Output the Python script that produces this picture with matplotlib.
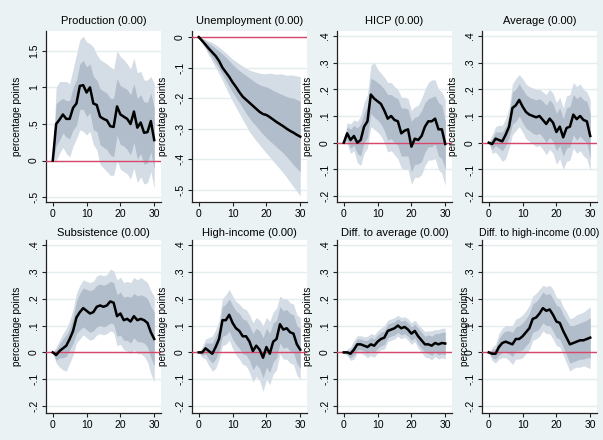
import numpy as np
import matplotlib
matplotlib.use("Agg")
from matplotlib import pyplot as plt
from matplotlib.ticker import FuncFormatter

plt.rcParams['font.family'] = ['Liberation Sans', 'DejaVu Sans']

horizon = list(range(31))

titles = ["Production (0.00)", "Unemployment (0.00)", "HICP (0.00)", "Average (0.00)",
          "Subsistence (0.00)", "High-income (0.00)", "Diff. to average (0.00)",
          "Diff. to high-income (0.00)"]

# Production
prod_mean = [0, .50, .56, .63, .57, .57, .72, .78, 1.02, 1.03, .93, 1.00, .78, .76, .60, .57,
             .55, .47, .46, .74, .63, .60, .57, .50, .67, .45, .52, .38, .39, .54, .28]
prod_in_hi = [0, .78, .82, .85, .82, .82, 1.0, 1.1, 1.32, 1.37, 1.28, 1.32, 1.15, 1.1, .98, .95,
              .92, .85, .85, 1.12, 1.02, 1.0, .97, .9, 1.05, .85, .9, .8, .8, .92, .72]
prod_in_lo = [0, .2, .28, .38, .32, .3, .42, .48, .7, .7, .6, .65, .42, .4, .22, .18,
              .15, .08, .05, .35, .22, .2, .15, .08, .25, .02, .1, -.05, -.03, .12, -.12]
prod_out_hi = [0, 1.0, 1.08, 1.08, 1.08, 1.05, 1.25, 1.45, 1.65, 1.7, 1.62, 1.6, 1.55, 1.45, 1.38, 1.35,
               1.32, 1.28, 1.25, 1.5, 1.42, 1.38, 1.32, 1.25, 1.4, 1.2, 1.22, 1.1, 1.1, 1.15, 1.05]
prod_out_lo = [0, 0.0, .1, .18, .1, .05, .2, .3, .42, .4, .35, .4, .22, .15, -.05, -.1,
               -.15, -.2, -.2, 0.0, -.12, -.15, -.18, -.25, -.1, -.3, -.22, -.32, -.3, -.15, -.38]

# Unemployment
unemp_mean = [0, -.012, -.025, -.038, -.05, -.062, -.078, -.1, -.115, -.13, -.148, -.163, -.18, -.195,
              -.205, -.215, -.225, -.235, -.245, -.252, -.255, -.262, -.27, -.278, -.285, -.292,
              -.3, -.307, -.313, -.32, -.326]
unemp_in_hi = [0, -.005, -.012, -.02, -.028, -.037, -.046, -.056, -.066, -.077, -.09, -.1, -.11, -.118,
               -.126, -.134, -.142, -.15, -.156, -.16, -.163, -.168, -.175, -.18, -.185, -.19,
               -.195, -.198, -.2, -.205, -.21]
unemp_in_lo = [0, -.017, -.034, -.051, -.068, -.085, -.103, -.122, -.142, -.162, -.18, -.198, -.215,
               -.232, -.25, -.265, -.28, -.292, -.305, -.318, -.33, -.34, -.35, -.36, -.37, -.38,
               -.392, -.405, -.418, -.43, -.44]
unemp_out_hi = [0, -.003, -.008, -.013, -.018, -.025, -.033, -.042, -.052, -.062, -.072, -.08, -.088,
                -.095, -.102, -.108, -.112, -.115, -.118, -.12, -.12, -.118, -.12, -.122, -.12, -.122,
                -.125, -.124, -.125, -.127, -.13]
unemp_out_lo = [0, -.02, -.04, -.06, -.08, -.1, -.12, -.142, -.165, -.188, -.21, -.23, -.25, -.27, -.29,
                -.31, -.325, -.34, -.353, -.367, -.38, -.393, -.406, -.419, -.432, -.445, -.46, -.475,
                -.49, -.505, -.52]

# HICP
hicp_mean = [0, .035, .01, .025, .0, .01, .06, .08, .18, .165, .155, .145, .12, .09, .10, .085,
             .08, .035, .045, .05, -.015, .015, .01, .025, .06, .08, .08, .09, .05, .05, -.005]
hicp_in_hi = [0, .06, .05, .065, .055, .07, .11, .14, .24, .235, .225, .215, .2, .18, .18, .17,
              .165, .13, .13, .125, .08, .095, .1, .12, .15, .165, .17, .175, .15, .14, .08]
hicp_in_lo = [0, .01, -.02, -.01, -.04, -.05, .0, .02, .11, .095, .085, .07, .045, .01, .015, .0,
              -.01, -.05, -.05, -.05, -.11, -.08, -.08, -.07, -.035, -.015, -.015, -.005, -.05, -.06, -.1]
hicp_out_hi = [0, .075, .07, .085, .08, .1, .15, .18, .29, .3, .275, .26, .245, .225, .225, .21,
               .2, .17, .17, .165, .12, .135, .14, .165, .2, .225, .235, .235, .2, .19, .16]
hicp_out_lo = [0, -.005, -.04, -.03, -.075, -.085, -.04, -.02, .06, .05, .04, .025, .0, -.035, -.03, -.045,
               -.06, -.095, -.1, -.1, -.155, -.13, -.13, -.12, -.085, -.065, -.065, -.06, -.1, -.115, -.16]

# Average
avg_mean = [0, -.005, .015, .01, .005, .03, .06, .13, .14, .16, .135, .115, .105, .10, .095, .10,
            .085, .07, .09, .075, .04, .06, .02, .055, .06, .105, .088, .10, .085, .08, .025]
avg_in_hi = [0, .015, .04, .04, .04, .06, .1, .19, .2, .22, .2, .18, .17, .165, .16, .165,
             .155, .14, .16, .145, .11, .13, .09, .13, .135, .18, .165, .175, .16, .155, .11]
avg_in_lo = [0, -.025, -.01, -.02, -.03, -.01, .02, .07, .08, .1, .075, .055, .045, .035, .03, .035,
             .02, .0, .02, .005, -.03, -.01, -.05, -.02, -.015, .03, .01, .025, .01, .0, -.06]
avg_out_hi = [0, .03, .06, .065, .065, .09, .13, .22, .24, .255, .24, .22, .21, .205, .2, .2,
              .19, .18, .2, .185, .15, .17, .13, .175, .18, .225, .21, .22, .2, .19, .16]
avg_out_lo = [0, -.04, -.035, -.05, -.07, -.06, -.02, .03, .045, .06, .04, .015, .005, -.005, -.015, -.01,
              -.025, -.045, -.025, -.04, -.08, -.06, -.1, -.07, -.065, -.02, -.04, -.03, -.05, -.06, -.105]

# Subsistence
subs_mean = [0, -.01, .005, .015, .025, .05, .08, .13, .15, .165, .155, .145, .15, .17, .175, .17,
             .175, .19, .185, .135, .145, .12, .125, .115, .135, .12, .125, .12, .11, .075, .05]
subs_in_hi = [0, .01, .03, .05, .065, .09, .13, .19, .22, .24, .235, .23, .235, .25, .255, .25,
              .255, .265, .26, .215, .225, .205, .21, .205, .22, .21, .215, .21, .2, .17, .15]
subs_in_lo = [0, -.03, -.02, -.02, -.015, .01, .035, .07, .085, .095, .085, .075, .08, .095, .1, .095,
              .1, .11, .105, .06, .065, .045, .045, .035, .055, .04, .04, .035, .02, -.02, -.05]
subs_out_hi = [0, .02, .045, .07, .09, .12, .16, .22, .25, .27, .265, .26, .265, .285, .29, .285,
               .29, .31, .305, .27, .28, .26, .265, .26, .28, .27, .28, .27, .26, .23, .21]
subs_out_lo = [0, -.04, -.055, -.065, -.07, -.04, -.01, .035, .05, .065, .055, .045, .05, .065, .07, .065,
               .07, .08, .075, .025, .03, .01, .005, -.005, .01, -.005, -.005, -.015, -.035, -.08, -.11]

# High-income
high_mean = [0, .0, .015, .005, -.005, .02, .05, .12, .12, .14, .11, .09, .08, .06, .06, .04,
             .005, .025, .01, -.02, .02, -.005, .04, .05, .105, .085, .09, .075, .07, .03, .01]
high_in_hi = [0, .01, .035, .035, .035, .06, .09, .17, .18, .2, .175, .155, .145, .125, .12, .1,
              .07, .09, .08, .055, .09, .07, .11, .12, .17, .155, .16, .145, .14, .1, .09]
high_in_lo = [0, -.01, -.005, -.025, -.04, -.025, .005, .06, .065, .08, .05, .03, .015, -.005, -.01, -.03,
              -.065, -.045, -.06, -.095, -.055, -.075, -.035, -.02, .035, .015, .02, .005, .0, -.04, -.06]
high_out_hi = [0, .02, .05, .055, .06, .085, .12, .2, .215, .235, .21, .19, .18, .165, .16, .14,
               .11, .13, .12, .1, .13, .115, .15, .165, .21, .2, .2, .185, .18, .14, .13]
high_out_lo = [0, -.02, -.025, -.05, -.07, -.06, -.025, .025, .03, .045, .015, -.01, -.025, -.045, -.05, -.075,
               -.11, -.09, -.105, -.145, -.1, -.12, -.08, -.065, -.005, -.025, -.025, -.04, -.045, -.085, -.1]

# Diff. to average
davg_mean = [0, 0, -.005, .01, .03, .03, .025, .02, .03, .025, .04, .05, .055, .08, .085, .09,
             .10, .09, .095, .085, .07, .08, .06, .045, .03, .03, .025, .035, .03, .035, .033]
davg_in_hi = [0, .007, .01, .03, .05, .05, .045, .045, .055, .05, .065, .075, .08, .105, .11, .115,
              .125, .115, .12, .11, .095, .105, .09, .075, .06, .065, .06, .07, .07, .075, .075]
davg_in_lo = [0, -.007, -.02, -.01, .01, .01, .005, -.005, .005, .0, .015, .025, .03, .055, .06, .065,
              .075, .065, .07, .06, .045, .055, .03, .015, .0, -.005, -.01, .0, -.01, -.005, -.01]
davg_out_hi = [0, .012, .02, .045, .062, .062, .058, .06, .07, .065, .08, .09, .1, .12, .125, .13,
               .138, .13, .133, .125, .11, .12, .105, .09, .078, .08, .08, .085, .085, .09, .09]
davg_out_lo = [0, -.012, -.03, -.025, -.003, -.003, -.01, -.02, -.012, -.018, -.002, .01, .012, .04, .045, .05,
               .06, .05, .057, .045, .03, .04, .015, .0, -.018, -.02, -.028, -.015, -.025, -.02, -.025]

# Diff. to high-income
dhigh_mean = [0, -.005, -.005, .02, .035, .04, .035, .03, .05, .05, .06, .075, .09, .125, .13, .145,
              .165, .155, .16, .14, .115, .11, .08, .055, .03, .035, .04, .045, .045, .05, .055]
dhigh_in_hi = [0, .01, .015, .05, .07, .08, .08, .075, .095, .1, .11, .125, .145, .18, .19, .205,
               .225, .215, .22, .2, .175, .17, .14, .12, .1, .1, .105, .11, .115, .12, .13]
dhigh_in_lo = [0, -.02, -.025, -.01, .0, .0, -.005, -.015, .005, .005, .01, .025, .04, .075, .08, .09,
               .11, .1, .1, .08, .055, .05, .02, -.01, -.04, -.035, -.03, -.025, -.025, -.02, -.02]
dhigh_out_hi = [0, .02, .03, .07, .09, .1, .1, .1, .125, .13, .14, .155, .175, .21, .22, .235,
                .25, .245, .25, .235, .205, .2, .17, .15, .125, .13, .14, .145, .15, .16, .17]
dhigh_out_lo = [0, -.03, -.04, -.025, -.02, -.02, -.03, -.045, -.025, -.025, -.02, -.005, .01, .045, .05, .06,
                .08, .07, .07, .05, .025, .02, -.01, -.04, -.07, -.06, -.055, -.055, -.05, -.055, -.06]

series = [
    (prod_mean, prod_in_lo, prod_in_hi, prod_out_lo, prod_out_hi),
    (unemp_mean, unemp_in_lo, unemp_in_hi, unemp_out_lo, unemp_out_hi),
    (hicp_mean, hicp_in_lo, hicp_in_hi, hicp_out_lo, hicp_out_hi),
    (avg_mean, avg_in_lo, avg_in_hi, avg_out_lo, avg_out_hi),
    (subs_mean, subs_in_lo, subs_in_hi, subs_out_lo, subs_out_hi),
    (high_mean, high_in_lo, high_in_hi, high_out_lo, high_out_hi),
    (davg_mean, davg_in_lo, davg_in_hi, davg_out_lo, davg_out_hi),
    (dhigh_mean, dhigh_in_lo, dhigh_in_hi, dhigh_out_lo, dhigh_out_hi),
]

std_ticks = [-.2, -.1, 0, .1, .2, .3, .4]
yticks = [[-.5, 0, .5, 1, 1.5], [-.5, -.4, -.3, -.2, -.1, 0]] + [std_ticks] * 6
ylims = [(-0.565, 1.77), (-0.54, 0.02)] + [(-0.222, 0.418)] * 2 + [(-0.226, 0.419)] * 4

BG = '#EAF2F3'
W, H = 603, 440


def stata_fmt(v, pos):
    s = f"{v:g}"
    if s == "-0":
        s = "0"
    return s.replace("0.", ".")


fig = plt.figure(figsize=(W / 100, H / 100), dpi=100, facecolor=BG)
lefts = [46, 192, 337, 482]
rows = [(31, 202), (240, 413)]
pw = 115

for i, (title, (mean, in_lo, in_hi, out_lo, out_hi)) in enumerate(zip(titles, series)):
    r, c = divmod(i, 4)
    top, bot = rows[r]
    ax = fig.add_axes([lefts[c] / W, 1 - bot / H, pw / W, (bot - top) / H])
    ax.set_facecolor('white')
    ax.fill_between(horizon, out_lo, out_hi, color='#D4DCE5', lw=0, zorder=2)
    ax.fill_between(horizon, in_lo, in_hi, color='#B1BDCB', lw=0, zorder=3)
    ax.axhline(0, color='#D9466C', lw=1.0, zorder=4)
    ax.plot(horizon, mean, color='black', lw=1.8, zorder=5)

    ax.set_xlim(-2, 32)
    ax.set_ylim(*ylims[i])
    ax.set_xticks([0, 10, 20, 30])
    ax.set_yticks(yticks[i])
    ax.yaxis.set_major_formatter(FuncFormatter(stata_fmt))
    ax.grid(axis='y', color='#E4EDEF', lw=1.0, zorder=0)
    ax.set_axisbelow(True)
    for s in ['top', 'right']:
        ax.spines[s].set_visible(False)
    for s in ['left', 'bottom']:
        ax.spines[s].set_color('#222222')
        ax.spines[s].set_linewidth(0.9)
    ax.tick_params(axis='both', length=3, width=0.8, color='#222222', labelsize=7.5, pad=2)
    plt.setp(ax.get_yticklabels(), rotation=90, va='center')
    ax.set_title(title, fontsize=8.0 if i != 7 else 7.6, pad=5 if r == 0 else 3)
    ax.set_ylabel("percentage points", fontsize=7.2)
    off = 24 if i != 7 else 12
    ax.yaxis.set_label_coords(-off / pw, 0.5)

fig.savefig("out.png", dpi=100, facecolor=BG)
